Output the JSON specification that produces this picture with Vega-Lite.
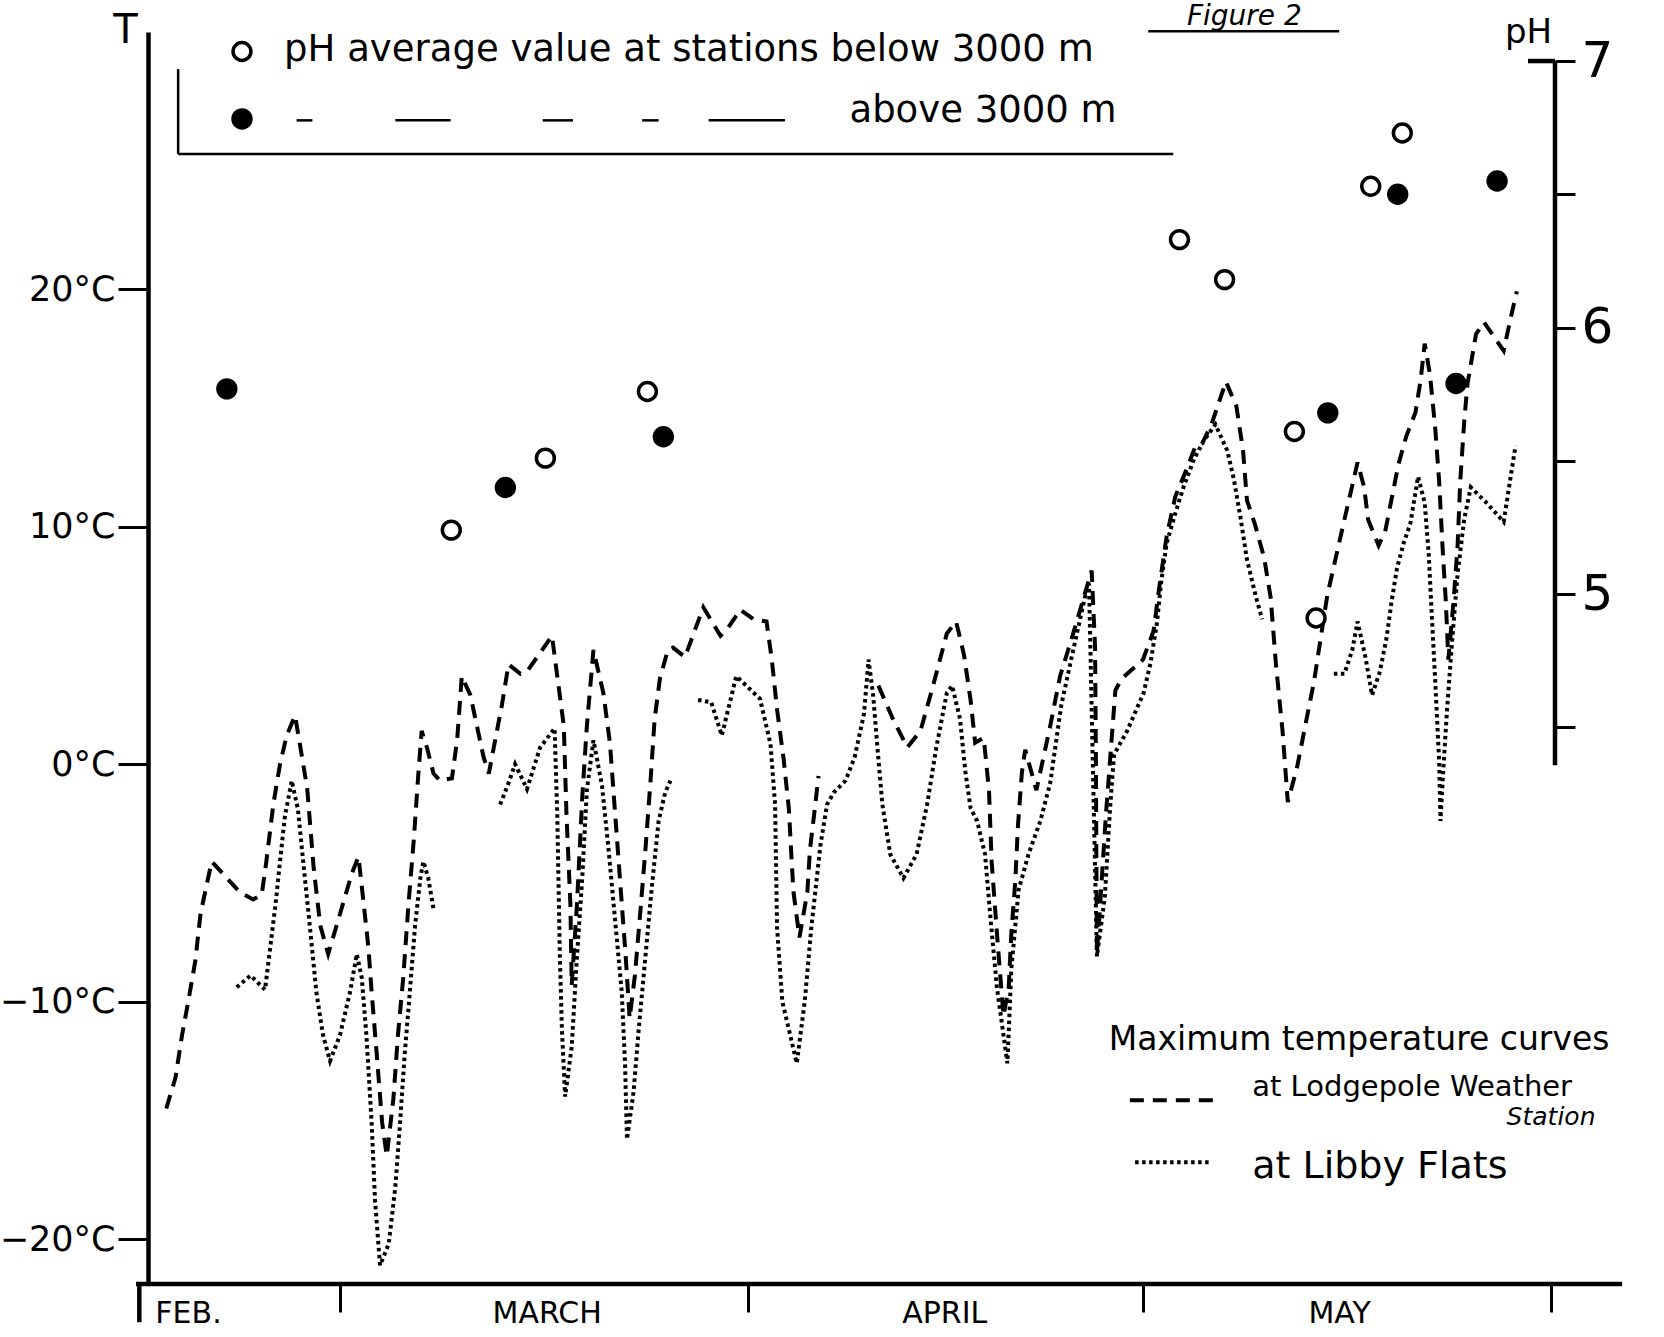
{
  "$schema": "https://vega.github.io/schema/vega-lite/v6.json",
  "width": 1407,
  "height": 1252,
  "autosize": "none",
  "padding": {"left": 148, "top": 32, "right": 109, "bottom": 53},
  "background": "white",
  "config": {"view": {"stroke": null}, "font": "DejaVu Sans"},
  "datasets": {
    "temps": [
      {"station":"Lodgepole","seg":"LP1","doy":46.8,"T":-14.5},{"station":"Lodgepole","seg":"LP1","doy":47.5,"T":-13.2},{"station":"Lodgepole","seg":"LP1","doy":48.0,"T":-11.4},{"station":"Lodgepole","seg":"LP1","doy":48.5,"T":-9.9},{"station":"Lodgepole","seg":"LP1","doy":49.0,"T":-8.3},{"station":"Lodgepole","seg":"LP1","doy":49.4,"T":-6.3},{"station":"Lodgepole","seg":"LP1","doy":49.9,"T":-5.0},{"station":"Lodgepole","seg":"LP1","doy":50.25,"T":-4.1},{"station":"Lodgepole","seg":"LP1","doy":51.4,"T":-4.8},{"station":"Lodgepole","seg":"LP1","doy":52.4,"T":-5.4},{"station":"Lodgepole","seg":"LP1","doy":53.4,"T":-5.7},{"station":"Lodgepole","seg":"LP1","doy":54.05,"T":-5.5},{"station":"Lodgepole","seg":"LP1","doy":54.4,"T":-4.1},{"station":"Lodgepole","seg":"LP1","doy":54.93,"T":-1.7},{"station":"Lodgepole","seg":"LP1","doy":55.44,"T":0.0},{"station":"Lodgepole","seg":"LP1","doy":55.95,"T":1.2},{"station":"Lodgepole","seg":"LP1","doy":56.58,"T":2.05},{"station":"Lodgepole","seg":"LP1","doy":57.5,"T":-1.0},{"station":"Lodgepole","seg":"LP1","doy":58.0,"T":-4.4},{"station":"Lodgepole","seg":"LP1","doy":58.5,"T":-6.8},{"station":"Lodgepole","seg":"LP1","doy":59.1,"T":-8.0},{"station":"Lodgepole","seg":"LP1","doy":60.0,"T":-6.3},{"station":"Lodgepole","seg":"LP1","doy":60.9,"T":-4.6},{"station":"Lodgepole","seg":"LP1","doy":61.4,"T":-3.9},{"station":"Lodgepole","seg":"LP1","doy":61.8,"T":-5.9},{"station":"Lodgepole","seg":"LP1","doy":62.15,"T":-7.7},{"station":"Lodgepole","seg":"LP1","doy":62.4,"T":-9.6},{"station":"Lodgepole","seg":"LP1","doy":62.8,"T":-12.3},{"station":"Lodgepole","seg":"LP1","doy":63.2,"T":-15.1},{"station":"Lodgepole","seg":"LP1","doy":63.55,"T":-16.5},{"station":"Lodgepole","seg":"LP1","doy":64.05,"T":-14.1},{"station":"Lodgepole","seg":"LP1","doy":64.4,"T":-11.4},{"station":"Lodgepole","seg":"LP1","doy":64.8,"T":-9.0},{"station":"Lodgepole","seg":"LP1","doy":65.2,"T":-5.9},{"station":"Lodgepole","seg":"LP1","doy":65.6,"T":-3.2},{"station":"Lodgepole","seg":"LP1","doy":65.95,"T":-0.4},{"station":"Lodgepole","seg":"LP1","doy":66.2,"T":1.4},{"station":"Lodgepole","seg":"LP1","doy":66.6,"T":0.7},{"station":"Lodgepole","seg":"LP1","doy":67.1,"T":-0.4},{"station":"Lodgepole","seg":"LP1","doy":67.6,"T":-0.7},{"station":"Lodgepole","seg":"LP1","doy":68.5,"T":-0.6},{"station":"Lodgepole","seg":"LP1","doy":68.9,"T":1.05},{"station":"Lodgepole","seg":"LP1","doy":69.25,"T":3.7},{"station":"Lodgepole","seg":"LP1","doy":69.9,"T":2.9},{"station":"Lodgepole","seg":"LP1","doy":70.4,"T":1.6},{"station":"Lodgepole","seg":"LP1","doy":70.9,"T":0.3},{"station":"Lodgepole","seg":"LP1","doy":71.3,"T":-0.4},{"station":"Lodgepole","seg":"LP1","doy":71.8,"T":1.05},{"station":"Lodgepole","seg":"LP1","doy":72.3,"T":2.5},{"station":"Lodgepole","seg":"LP1","doy":72.8,"T":4.2},{"station":"Lodgepole","seg":"LP1","doy":73.7,"T":3.8},{"station":"Lodgepole","seg":"LP1","doy":74.2,"T":3.9},{"station":"Lodgepole","seg":"LP1","doy":75.1,"T":4.6},{"station":"Lodgepole","seg":"LP1","doy":76.1,"T":5.4},{"station":"Lodgepole","seg":"LP1","doy":77.0,"T":1.6},{"station":"Lodgepole","seg":"LP1","doy":77.2,"T":-2.1},{"station":"Lodgepole","seg":"LP1","doy":77.5,"T":-5.9},{"station":"Lodgepole","seg":"LP1","doy":77.6,"T":-9.3},{"station":"Lodgepole","seg":"LP1","doy":78.0,"T":-5.9},{"station":"Lodgepole","seg":"LP1","doy":78.4,"T":-1.4},{"station":"Lodgepole","seg":"LP1","doy":78.75,"T":1.6},{"station":"Lodgepole","seg":"LP1","doy":79.25,"T":4.8},{"station":"Lodgepole","seg":"LP1","doy":80.0,"T":3.0},{"station":"Lodgepole","seg":"LP1","doy":80.5,"T":0.9},{"station":"Lodgepole","seg":"LP1","doy":80.9,"T":-2.1},{"station":"Lodgepole","seg":"LP1","doy":81.3,"T":-5.1},{"station":"Lodgepole","seg":"LP1","doy":81.7,"T":-8.1},{"station":"Lodgepole","seg":"LP1","doy":82.0,"T":-10.7},{"station":"Lodgepole","seg":"LP1","doy":82.4,"T":-8.9},{"station":"Lodgepole","seg":"LP1","doy":82.8,"T":-6.3},{"station":"Lodgepole","seg":"LP1","doy":83.2,"T":-3.6},{"station":"Lodgepole","seg":"LP1","doy":83.6,"T":-0.6},{"station":"Lodgepole","seg":"LP1","doy":83.9,"T":1.9},{"station":"Lodgepole","seg":"LP1","doy":84.3,"T":3.6},{"station":"Lodgepole","seg":"LP1","doy":84.9,"T":4.8},{"station":"Lodgepole","seg":"LP1","doy":85.3,"T":4.9},{"station":"Lodgepole","seg":"LP1","doy":86.2,"T":4.5},{"station":"Lodgepole","seg":"LP1","doy":87.6,"T":6.6},{"station":"Lodgepole","seg":"LP1","doy":88.9,"T":5.4},{"station":"Lodgepole","seg":"LP1","doy":89.5,"T":5.75},{"station":"Lodgepole","seg":"LP1","doy":90.4,"T":6.5},{"station":"Lodgepole","seg":"LP1","doy":91.4,"T":6.1},{"station":"Lodgepole","seg":"LP1","doy":92.4,"T":6.0},{"station":"Lodgepole","seg":"LP1","doy":92.8,"T":4.4},{"station":"Lodgepole","seg":"LP1","doy":93.2,"T":2.3},{"station":"Lodgepole","seg":"LP1","doy":93.7,"T":0.2},{"station":"Lodgepole","seg":"LP1","doy":94.1,"T":-1.9},{"station":"Lodgepole","seg":"LP1","doy":94.3,"T":-4.0},{"station":"Lodgepole","seg":"LP1","doy":94.45,"T":-5.4},{"station":"Lodgepole","seg":"LP1","doy":94.9,"T":-7.3},{"station":"Lodgepole","seg":"LP1","doy":95.5,"T":-5.4},{"station":"Lodgepole","seg":"LP1","doy":95.7,"T":-3.6},{"station":"Lodgepole","seg":"LP1","doy":96.0,"T":-2.2},{"station":"Lodgepole","seg":"LP1","doy":96.35,"T":-0.5},
      {"station":"Lodgepole","seg":"LP2","doy":100.9,"T":3.3},{"station":"Lodgepole","seg":"LP2","doy":102.0,"T":1.9},{"station":"Lodgepole","seg":"LP2","doy":103.1,"T":0.7},{"station":"Lodgepole","seg":"LP2","doy":104.1,"T":1.4},{"station":"Lodgepole","seg":"LP2","doy":105.1,"T":3.4},{"station":"Lodgepole","seg":"LP2","doy":106.1,"T":5.5},{"station":"Lodgepole","seg":"LP2","doy":106.8,"T":6.0},{"station":"Lodgepole","seg":"LP2","doy":107.4,"T":4.6},{"station":"Lodgepole","seg":"LP2","doy":107.9,"T":2.7},{"station":"Lodgepole","seg":"LP2","doy":108.25,"T":0.9},{"station":"Lodgepole","seg":"LP2","doy":108.9,"T":1.1},{"station":"Lodgepole","seg":"LP2","doy":109.3,"T":-1.1},{"station":"Lodgepole","seg":"LP2","doy":109.5,"T":-4.1},{"station":"Lodgepole","seg":"LP2","doy":109.9,"T":-7.1},{"station":"Lodgepole","seg":"LP2","doy":110.4,"T":-10.6},{"station":"Lodgepole","seg":"LP2","doy":110.8,"T":-9.4},{"station":"Lodgepole","seg":"LP2","doy":111.0,"T":-7.1},{"station":"Lodgepole","seg":"LP2","doy":111.3,"T":-4.9},{"station":"Lodgepole","seg":"LP2","doy":111.5,"T":-2.6},{"station":"Lodgepole","seg":"LP2","doy":111.8,"T":-0.35},{"station":"Lodgepole","seg":"LP2","doy":112.05,"T":0.6},{"station":"Lodgepole","seg":"LP2","doy":112.9,"T":-1.1},{"station":"Lodgepole","seg":"LP2","doy":113.95,"T":1.6},{"station":"Lodgepole","seg":"LP2","doy":114.7,"T":3.7},{"station":"Lodgepole","seg":"LP2","doy":115.7,"T":5.5},{"station":"Lodgepole","seg":"LP2","doy":117.1,"T":8.15},{"station":"Lodgepole","seg":"LP2","doy":117.36,"T":4.9},{"station":"Lodgepole","seg":"LP2","doy":117.42,"T":0.4},{"station":"Lodgepole","seg":"LP2","doy":117.46,"T":-4.1},{"station":"Lodgepole","seg":"LP2","doy":117.5,"T":-8.0},{"station":"Lodgepole","seg":"LP2","doy":118.2,"T":-2.0},{"station":"Lodgepole","seg":"LP2","doy":118.9,"T":3.1},{"station":"Lodgepole","seg":"LP2","doy":119.4,"T":3.6},{"station":"Lodgepole","seg":"LP2","doy":121.0,"T":4.4},{"station":"Lodgepole","seg":"LP2","doy":121.8,"T":5.6},{"station":"Lodgepole","seg":"LP2","doy":122.3,"T":7.7},{"station":"Lodgepole","seg":"LP2","doy":122.8,"T":9.6},{"station":"Lodgepole","seg":"LP2","doy":123.45,"T":11.25},{"station":"Lodgepole","seg":"LP2","doy":124.3,"T":12.4},{"station":"Lodgepole","seg":"LP2","doy":125.0,"T":13.4},{"station":"Lodgepole","seg":"LP2","doy":125.5,"T":13.5},{"station":"Lodgepole","seg":"LP2","doy":126.2,"T":14.3},{"station":"Lodgepole","seg":"LP2","doy":127.3,"T":16.1},{"station":"Lodgepole","seg":"LP2","doy":128.1,"T":15.05},{"station":"Lodgepole","seg":"LP2","doy":128.6,"T":13.2},{"station":"Lodgepole","seg":"LP2","doy":128.9,"T":11.1},{"station":"Lodgepole","seg":"LP2","doy":129.5,"T":10.1},{"station":"Lodgepole","seg":"LP2","doy":130.2,"T":8.7},{"station":"Lodgepole","seg":"LP2","doy":130.7,"T":7.0},{"station":"Lodgepole","seg":"LP2","doy":131.1,"T":4.2},{"station":"Lodgepole","seg":"LP2","doy":131.6,"T":1.4},{"station":"Lodgepole","seg":"LP2","doy":132.0,"T":-1.6},{"station":"Lodgepole","seg":"LP2","doy":132.7,"T":-0.15},{"station":"Lodgepole","seg":"LP2","doy":134.0,"T":3.5},{"station":"Lodgepole","seg":"LP2","doy":135.0,"T":7.1},{"station":"Lodgepole","seg":"LP2","doy":136.1,"T":9.8},{"station":"Lodgepole","seg":"LP2","doy":137.3,"T":12.7},{"station":"Lodgepole","seg":"LP2","doy":137.8,"T":11.65},{"station":"Lodgepole","seg":"LP2","doy":138.1,"T":10.3},{"station":"Lodgepole","seg":"LP2","doy":138.9,"T":9.2},{"station":"Lodgepole","seg":"LP2","doy":139.4,"T":9.8},{"station":"Lodgepole","seg":"LP2","doy":139.9,"T":11.2},{"station":"Lodgepole","seg":"LP2","doy":140.4,"T":12.6},{"station":"Lodgepole","seg":"LP2","doy":141.0,"T":13.8},{"station":"Lodgepole","seg":"LP2","doy":141.7,"T":14.8},{"station":"Lodgepole","seg":"LP2","doy":142.1,"T":16.2},{"station":"Lodgepole","seg":"LP2","doy":142.4,"T":17.7},{"station":"Lodgepole","seg":"LP2","doy":142.8,"T":16.4},{"station":"Lodgepole","seg":"LP2","doy":143.2,"T":14.15},{"station":"Lodgepole","seg":"LP2","doy":143.5,"T":11.9},{"station":"Lodgepole","seg":"LP2","doy":143.75,"T":9.2},{"station":"Lodgepole","seg":"LP2","doy":144.0,"T":6.9},{"station":"Lodgepole","seg":"LP2","doy":144.2,"T":4.4},{"station":"Lodgepole","seg":"LP2","doy":144.6,"T":6.9},{"station":"Lodgepole","seg":"LP2","doy":144.9,"T":9.2},{"station":"Lodgepole","seg":"LP2","doy":145.1,"T":11.9},{"station":"Lodgepole","seg":"LP2","doy":145.4,"T":14.4},{"station":"Lodgepole","seg":"LP2","doy":145.65,"T":16.0},{"station":"Lodgepole","seg":"LP2","doy":146.3,"T":18.1},{"station":"Lodgepole","seg":"LP2","doy":146.9,"T":18.6},{"station":"Lodgepole","seg":"LP2","doy":147.65,"T":18.0},{"station":"Lodgepole","seg":"LP2","doy":148.4,"T":17.4},{"station":"Lodgepole","seg":"LP2","doy":148.9,"T":18.7},{"station":"Lodgepole","seg":"LP2","doy":149.4,"T":19.9},
      {"station":"Libby","seg":"LF1","doy":52.15,"T":-9.4},{"station":"Libby","seg":"LF1","doy":53.2,"T":-8.9},{"station":"Libby","seg":"LF1","doy":54.3,"T":-9.5},{"station":"Libby","seg":"LF1","doy":54.7,"T":-7.7},{"station":"Libby","seg":"LF1","doy":55.1,"T":-5.9},{"station":"Libby","seg":"LF1","doy":55.44,"T":-4.1},{"station":"Libby","seg":"LF1","doy":55.8,"T":-2.25},{"station":"Libby","seg":"LF1","doy":56.33,"T":-0.7},{"station":"Libby","seg":"LF1","doy":56.8,"T":-1.9},{"station":"Libby","seg":"LF1","doy":57.2,"T":-4.1},{"station":"Libby","seg":"LF1","doy":57.7,"T":-6.8},{"station":"Libby","seg":"LF1","doy":58.2,"T":-9.6},{"station":"Libby","seg":"LF1","doy":58.7,"T":-11.4},{"station":"Libby","seg":"LF1","doy":59.24,"T":-12.5},{"station":"Libby","seg":"LF1","doy":60.0,"T":-11.4},{"station":"Libby","seg":"LF1","doy":60.76,"T":-9.6},{"station":"Libby","seg":"LF1","doy":61.27,"T":-8.0},{"station":"Libby","seg":"LF1","doy":61.65,"T":-9.0},{"station":"Libby","seg":"LF1","doy":62.0,"T":-11.4},{"station":"Libby","seg":"LF1","doy":62.4,"T":-15.1},{"station":"Libby","seg":"LF1","doy":62.66,"T":-18.4},{"station":"Libby","seg":"LF1","doy":63.04,"T":-21.1},{"station":"Libby","seg":"LF1","doy":63.7,"T":-20.2},{"station":"Libby","seg":"LF1","doy":64.2,"T":-17.8},{"station":"Libby","seg":"LF1","doy":64.56,"T":-15.1},{"station":"Libby","seg":"LF1","doy":64.9,"T":-12.3},{"station":"Libby","seg":"LF1","doy":65.3,"T":-9.6},{"station":"Libby","seg":"LF1","doy":65.7,"T":-6.8},{"station":"Libby","seg":"LF1","doy":66.1,"T":-4.8},{"station":"Libby","seg":"LF1","doy":66.33,"T":-4.1},{"station":"Libby","seg":"LF1","doy":66.7,"T":-4.8},{"station":"Libby","seg":"LF1","doy":67.1,"T":-6.1},
      {"station":"Libby","seg":"LF2","doy":72.16,"T":-1.7},{"station":"Libby","seg":"LF2","doy":72.8,"T":-0.8},{"station":"Libby","seg":"LF2","doy":73.3,"T":0.0},{"station":"Libby","seg":"LF2","doy":74.2,"T":-1.05},{"station":"Libby","seg":"LF2","doy":75.2,"T":0.7},{"station":"Libby","seg":"LF2","doy":76.3,"T":1.5},{"station":"Libby","seg":"LF2","doy":76.5,"T":-2.1},{"station":"Libby","seg":"LF2","doy":76.6,"T":-5.1},{"station":"Libby","seg":"LF2","doy":76.7,"T":-8.1},{"station":"Libby","seg":"LF2","doy":76.85,"T":-11.1},{"station":"Libby","seg":"LF2","doy":77.1,"T":-14.0},{"station":"Libby","seg":"LF2","doy":77.6,"T":-11.9},{"station":"Libby","seg":"LF2","doy":78.0,"T":-8.1},{"station":"Libby","seg":"LF2","doy":78.4,"T":-4.8},{"station":"Libby","seg":"LF2","doy":78.75,"T":-1.1},{"station":"Libby","seg":"LF2","doy":79.25,"T":1.0},{"station":"Libby","seg":"LF2","doy":79.9,"T":-0.9},{"station":"Libby","seg":"LF2","doy":80.4,"T":-3.6},{"station":"Libby","seg":"LF2","doy":80.9,"T":-6.6},{"station":"Libby","seg":"LF2","doy":81.4,"T":-9.6},{"station":"Libby","seg":"LF2","doy":81.65,"T":-12.6},{"station":"Libby","seg":"LF2","doy":81.8,"T":-15.8},{"station":"Libby","seg":"LF2","doy":82.3,"T":-13.8},{"station":"Libby","seg":"LF2","doy":82.7,"T":-11.1},{"station":"Libby","seg":"LF2","doy":83.2,"T":-8.1},{"station":"Libby","seg":"LF2","doy":83.7,"T":-5.1},{"station":"Libby","seg":"LF2","doy":84.2,"T":-2.4},{"station":"Libby","seg":"LF2","doy":84.7,"T":-1.2},{"station":"Libby","seg":"LF2","doy":85.1,"T":-0.7},
      {"station":"Libby","seg":"LF3","doy":87.2,"T":2.7},{"station":"Libby","seg":"LF3","doy":88.2,"T":2.6},{"station":"Libby","seg":"LF3","doy":89.0,"T":1.2},{"station":"Libby","seg":"LF3","doy":90.1,"T":3.7},{"station":"Libby","seg":"LF3","doy":91.9,"T":2.75},{"station":"Libby","seg":"LF3","doy":92.7,"T":0.85},{"station":"Libby","seg":"LF3","doy":93.05,"T":-1.7},{"station":"Libby","seg":"LF3","doy":93.2,"T":-6.9},{"station":"Libby","seg":"LF3","doy":93.6,"T":-10.0},{"station":"Libby","seg":"LF3","doy":94.7,"T":-12.6},{"station":"Libby","seg":"LF3","doy":95.3,"T":-10.0},{"station":"Libby","seg":"LF3","doy":95.8,"T":-6.9},{"station":"Libby","seg":"LF3","doy":96.5,"T":-3.4},{"station":"Libby","seg":"LF3","doy":97.0,"T":-1.7},{"station":"Libby","seg":"LF3","doy":97.5,"T":-1.2},{"station":"Libby","seg":"LF3","doy":98.4,"T":-0.7},{"station":"Libby","seg":"LF3","doy":99.1,"T":0.3},{"station":"Libby","seg":"LF3","doy":99.8,"T":2.1},{"station":"Libby","seg":"LF3","doy":100.15,"T":4.4},{"station":"Libby","seg":"LF3","doy":100.5,"T":2.9},{"station":"Libby","seg":"LF3","doy":100.8,"T":0.85},{"station":"Libby","seg":"LF3","doy":101.2,"T":-1.7},{"station":"Libby","seg":"LF3","doy":101.8,"T":-3.8},{"station":"Libby","seg":"LF3","doy":102.8,"T":-4.8},{"station":"Libby","seg":"LF3","doy":103.8,"T":-3.8},{"station":"Libby","seg":"LF3","doy":104.6,"T":-1.7},{"station":"Libby","seg":"LF3","doy":105.3,"T":0.7},{"station":"Libby","seg":"LF3","doy":106.1,"T":3.0},{"station":"Libby","seg":"LF3","doy":106.5,"T":3.3},{"station":"Libby","seg":"LF3","doy":107.1,"T":1.9},{"station":"Libby","seg":"LF3","doy":107.5,"T":-0.3},{"station":"Libby","seg":"LF3","doy":107.9,"T":-1.85},{"station":"Libby","seg":"LF3","doy":108.4,"T":-2.4},{"station":"Libby","seg":"LF3","doy":109.0,"T":-3.8},{"station":"Libby","seg":"LF3","doy":109.4,"T":-6.4},{"station":"Libby","seg":"LF3","doy":109.9,"T":-9.4},{"station":"Libby","seg":"LF3","doy":110.7,"T":-12.6},{"station":"Libby","seg":"LF3","doy":111.0,"T":-8.6},{"station":"Libby","seg":"LF3","doy":111.55,"T":-5.3},{"station":"Libby","seg":"LF3","doy":112.3,"T":-3.8},{"station":"Libby","seg":"LF3","doy":113.2,"T":-2.4},{"station":"Libby","seg":"LF3","doy":113.95,"T":-0.8},{"station":"Libby","seg":"LF3","doy":114.8,"T":2.5},{"station":"Libby","seg":"LF3","doy":115.7,"T":4.8},{"station":"Libby","seg":"LF3","doy":116.7,"T":7.3},{"station":"Libby","seg":"LF3","doy":116.9,"T":7.6},{"station":"Libby","seg":"LF3","doy":117.5,"T":-8.1},{"station":"Libby","seg":"LF3","doy":118.1,"T":-5.6},{"station":"Libby","seg":"LF3","doy":118.5,"T":-1.85},{"station":"Libby","seg":"LF3","doy":118.8,"T":0.4},{"station":"Libby","seg":"LF3","doy":119.8,"T":1.4},{"station":"Libby","seg":"LF3","doy":121.05,"T":3.0},{"station":"Libby","seg":"LF3","doy":121.55,"T":4.2},{"station":"Libby","seg":"LF3","doy":122.05,"T":5.9},{"station":"Libby","seg":"LF3","doy":122.4,"T":7.75},{"station":"Libby","seg":"LF3","doy":122.8,"T":9.3},{"station":"Libby","seg":"LF3","doy":123.45,"T":10.55},{"station":"Libby","seg":"LF3","doy":124.1,"T":11.7},{"station":"Libby","seg":"LF3","doy":124.85,"T":12.8},{"station":"Libby","seg":"LF3","doy":125.6,"T":13.6},{"station":"Libby","seg":"LF3","doy":126.5,"T":14.3},{"station":"Libby","seg":"LF3","doy":127.4,"T":13.2},{"station":"Libby","seg":"LF3","doy":127.9,"T":12.0},{"station":"Libby","seg":"LF3","doy":128.4,"T":10.4},{"station":"Libby","seg":"LF3","doy":128.9,"T":8.6},{"station":"Libby","seg":"LF3","doy":129.6,"T":7.0},{"station":"Libby","seg":"LF3","doy":130.05,"T":6.1},
      {"station":"Libby","seg":"LF4","doy":135.5,"T":3.8},{"station":"Libby","seg":"LF4","doy":136.3,"T":3.8},{"station":"Libby","seg":"LF4","doy":136.9,"T":4.8},{"station":"Libby","seg":"LF4","doy":137.3,"T":6.0},{"station":"Libby","seg":"LF4","doy":137.9,"T":4.5},{"station":"Libby","seg":"LF4","doy":138.4,"T":2.9},{"station":"Libby","seg":"LF4","doy":139.0,"T":3.9},{"station":"Libby","seg":"LF4","doy":139.5,"T":5.3},{"station":"Libby","seg":"LF4","doy":139.9,"T":6.9},{"station":"Libby","seg":"LF4","doy":140.3,"T":8.25},{"station":"Libby","seg":"LF4","doy":140.8,"T":9.3},{"station":"Libby","seg":"LF4","doy":141.3,"T":10.1},{"station":"Libby","seg":"LF4","doy":141.9,"T":12.1},{"station":"Libby","seg":"LF4","doy":142.4,"T":11.0},{"station":"Libby","seg":"LF4","doy":142.7,"T":8.9},{"station":"Libby","seg":"LF4","doy":142.9,"T":6.7},{"station":"Libby","seg":"LF4","doy":143.2,"T":3.5},{"station":"Libby","seg":"LF4","doy":143.5,"T":0.1},{"station":"Libby","seg":"LF4","doy":143.6,"T":-2.4},{"station":"Libby","seg":"LF4","doy":143.85,"T":0.1},{"station":"Libby","seg":"LF4","doy":144.1,"T":2.3},{"station":"Libby","seg":"LF4","doy":144.5,"T":5.3},{"station":"Libby","seg":"LF4","doy":144.9,"T":8.0},{"station":"Libby","seg":"LF4","doy":145.4,"T":10.3},{"station":"Libby","seg":"LF4","doy":145.9,"T":11.65},{"station":"Libby","seg":"LF4","doy":147.1,"T":11.0},{"station":"Libby","seg":"LF4","doy":148.4,"T":10.2},{"station":"Libby","seg":"LF4","doy":149.3,"T":13.4}
    ],
    "ph": [
      {"site":"above 3000 m","doy":51.4,"pH":5.77},
      {"site":"above 3000 m","doy":72.56,"pH":5.40},
      {"site":"above 3000 m","doy":84.56,"pH":5.59},
      {"site":"above 3000 m","doy":135.04,"pH":5.68},
      {"site":"above 3000 m","doy":140.35,"pH":6.50},
      {"site":"above 3000 m","doy":144.78,"pH":5.79},
      {"site":"above 3000 m","doy":147.9,"pH":6.55},
      {"site":"below 3000 m","doy":68.45,"pH":5.24},
      {"site":"below 3000 m","doy":75.6,"pH":5.51},
      {"site":"below 3000 m","doy":83.35,"pH":5.76},
      {"site":"below 3000 m","doy":123.77,"pH":6.33},
      {"site":"below 3000 m","doy":127.2,"pH":6.18},
      {"site":"below 3000 m","doy":132.5,"pH":5.61},
      {"site":"below 3000 m","doy":134.15,"pH":4.91},
      {"site":"below 3000 m","doy":138.3,"pH":6.53},
      {"site":"below 3000 m","doy":140.7,"pH":6.73}
    ],
    "phaxis": [
      {"doy":152.3,"doy2":152.3,"pH":4.358,"pH2":7.0},
      {"doy":150.25,"doy2":152.3,"pH":7.0,"pH2":7.0}
    ],
    "strokes": [
      {"kind":"axis","doy":44.5,"doy2":157.4,"T":-21.89,"T2":-21.89},
      {"kind":"axis","doy":44.75,"doy2":44.75,"T":-21.89,"T2":-23.5},
      {"kind":"deco","doy":47.7,"doy2":47.7,"T":29.26,"T2":25.68},
      {"kind":"deco","doy":47.7,"doy2":123.3,"T":25.68,"T2":25.68},
      {"kind":"deco","doy":121.4,"doy2":135.9,"T":30.85,"T2":30.85},
      {"kind":"deco","doy":56.7,"doy2":57.9,"T":27.1,"T2":27.1},
      {"kind":"deco","doy":64.2,"doy2":68.4,"T":27.1,"T2":27.1},
      {"kind":"deco","doy":75.4,"doy2":77.7,"T":27.1,"T2":27.1},
      {"kind":"deco","doy":82.95,"doy2":84.2,"T":27.1,"T2":27.1},
      {"kind":"deco","doy":88.0,"doy2":93.8,"T":27.1,"T2":27.1}
    ],
    "keys": [
      {"station":"Lodgepole","doy":120.0,"doy2":126.7,"T":-14.15},
      {"station":"Libby","doy":120.4,"doy2":126.1,"T":-16.76}
    ],
    "keypoints": [
      {"site":"below 3000 m","doy":52.55,"T":30.0},
      {"site":"above 3000 m","doy":52.55,"T":27.16}
    ],
    "notes": [
      {"block":"top","text":"pH average value at stations below 3000 m","doy":55.75,"T":30.06},
      {"block":"top","text":"above 3000 m","doy":98.7,"T":27.5},
      {"block":"fig","text":"Figure 2","doy":128.7,"T":31.12},
      {"block":"head","text":"Maximum temperature curves","doy":118.4,"T":-11.6},
      {"block":"item","text":"at Lodgepole Weather","doy":129.3,"T":-13.6},
      {"block":"item3","text":"Station","doy":152.0,"T":-14.85},
      {"block":"item2","text":"at Libby Flats","doy":129.3,"T":-16.97}
    ]
  },
  "layer": [
    {
      "layer": [
        {
          "data": {"name": "strokes"},
          "transform": [{"filter": "datum.kind == 'axis'"}],
          "mark": {"type": "rule", "color": "black", "strokeWidth": 4.5},
          "encoding": {
            "x": {"field": "doy", "type": "quantitative", "scale": {"domain": [45.41, 152.3], "nice": false, "zero": false}},
            "x2": {"field": "doy2"},
            "y": {"field": "T", "type": "quantitative", "scale": {"domain": [-21.89, 30.82], "nice": false, "zero": false}},
            "y2": {"field": "T2"}
          }
        },
        {
          "data": {"name": "strokes"},
          "transform": [{"filter": "datum.kind == 'deco'"}],
          "mark": {"type": "rule", "color": "black", "strokeWidth": 2.5},
          "encoding": {
            "x": {"field": "doy", "type": "quantitative", "scale": {"domain": [45.41, 152.3], "nice": false, "zero": false}},
            "x2": {"field": "doy2"},
            "y": {"field": "T", "type": "quantitative", "scale": {"domain": [-21.89, 30.82], "nice": false, "zero": false}},
            "y2": {"field": "T2"}
          }
        },
        {
          "data": {"name": "temps"},
          "mark": {"type": "line", "color": "black", "strokeWidth": 4, "strokeCap": "butt"},
          "encoding": {
            "x": {
              "field": "doy", "type": "quantitative",
              "scale": {"domain": [45.41, 152.3], "nice": false, "zero": false},
              "axis": {
                "values": [48.45, 60, 75.7, 91, 105.9, 121, 135.9, 152],
                "labelExpr": "datum.value == 48.45 ? 'FEB.' : datum.value == 75.7 ? 'MARCH' : datum.value == 105.9 ? 'APRIL' : datum.value == 135.9 ? 'MAY' : ''",
                "tickOpacity": {"condition": {"test": "datum.value == 60 || datum.value == 91 || datum.value == 121 || datum.value == 152", "value": 1}, "value": 0},
                "tickSize": 28, "tickWidth": 3, "tickColor": "black",
                "domain": false, "grid": false, "title": null,
                "labelFontSize": 30, "labelBaseline": "middle", "labelPadding": 1,
                "labelAlign": "center", "labelFlush": false, "labelOverlap": false, "labelColor": "black"
              }
            },
            "y": {
              "field": "T", "type": "quantitative",
              "scale": {"domain": [-21.89, 30.82], "nice": false, "zero": false},
              "axis": {
                "values": [-20, -10, 0, 10, 20],
                "labelExpr": "datum.value < 0 ? '−' + abs(datum.value) + '°C' : datum.value + '°C'",
                "tickSize": 30, "tickWidth": 3, "tickColor": "black",
                "domainWidth": 4.5, "domainColor": "black", "grid": false,
                "labelFontSize": 35, "labelPadding": 3, "labelColor": "black",
                "title": "T", "titleAngle": 0, "titleX": -23, "titleY": -2,
                "titleFontSize": 40, "titleFontWeight": "normal", "titleAlign": "center", "titleBaseline": "middle", "titleColor": "black"
              }
            },
            "strokeDash": {"field": "station", "type": "nominal", "scale": {"domain": ["Lodgepole", "Libby"], "range": [[14, 9], [3.5, 3.5]]}, "legend": null},
            "detail": {"field": "seg", "type": "nominal"}
          }
        },
        {
          "data": {"name": "keys"},
          "mark": {"type": "rule", "color": "black", "strokeWidth": 4, "strokeCap": "butt"},
          "encoding": {
            "x": {"field": "doy", "type": "quantitative", "scale": {"domain": [45.41, 152.3], "nice": false, "zero": false}},
            "x2": {"field": "doy2"},
            "y": {"field": "T", "type": "quantitative", "scale": {"domain": [-21.89, 30.82], "nice": false, "zero": false}},
            "strokeDash": {"field": "station", "type": "nominal", "scale": {"domain": ["Lodgepole", "Libby"], "range": [[14, 9], [3.5, 3.5]]}, "legend": null}
          }
        },
        {
          "data": {"name": "keypoints"},
          "mark": {"type": "point", "shape": "circle", "filled": true, "opacity": 1, "size": 320, "stroke": "black", "strokeWidth": 3.5},
          "encoding": {
            "x": {"field": "doy", "type": "quantitative", "scale": {"domain": [45.41, 152.3], "nice": false, "zero": false}},
            "y": {"field": "T", "type": "quantitative", "scale": {"domain": [-21.89, 30.82], "nice": false, "zero": false}},
            "fill": {"field": "site", "type": "nominal", "scale": {"domain": ["below 3000 m", "above 3000 m"], "range": ["white", "black"]}, "legend": null}
          }
        },
        {
          "data": {"name": "notes"},
          "transform": [{"filter": "datum.block == 'top'"}],
          "mark": {"type": "text", "fontSize": 37, "align": "left", "baseline": "middle", "color": "black"},
          "encoding": {
            "x": {"field": "doy", "type": "quantitative", "scale": {"domain": [45.41, 152.3], "nice": false, "zero": false}},
            "y": {"field": "T", "type": "quantitative", "scale": {"domain": [-21.89, 30.82], "nice": false, "zero": false}},
            "text": {"field": "text"}
          }
        },
        {
          "data": {"name": "notes"},
          "transform": [{"filter": "datum.block == 'fig'"}],
          "mark": {"type": "text", "fontSize": 28, "fontStyle": "italic", "align": "center", "baseline": "alphabetic", "color": "black"},
          "encoding": {
            "x": {"field": "doy", "type": "quantitative", "scale": {"domain": [45.41, 152.3], "nice": false, "zero": false}},
            "y": {"field": "T", "type": "quantitative", "scale": {"domain": [-21.89, 30.82], "nice": false, "zero": false}},
            "text": {"field": "text"}
          }
        },
        {
          "data": {"name": "notes"},
          "transform": [{"filter": "datum.block == 'head'"}],
          "mark": {"type": "text", "fontSize": 33, "align": "left", "baseline": "middle", "color": "black"},
          "encoding": {
            "x": {"field": "doy", "type": "quantitative", "scale": {"domain": [45.41, 152.3], "nice": false, "zero": false}},
            "y": {"field": "T", "type": "quantitative", "scale": {"domain": [-21.89, 30.82], "nice": false, "zero": false}},
            "text": {"field": "text"}
          }
        },
        {
          "data": {"name": "notes"},
          "transform": [{"filter": "datum.block == 'item'"}],
          "mark": {"type": "text", "fontSize": 29, "align": "left", "baseline": "middle", "color": "black"},
          "encoding": {
            "x": {"field": "doy", "type": "quantitative", "scale": {"domain": [45.41, 152.3], "nice": false, "zero": false}},
            "y": {"field": "T", "type": "quantitative", "scale": {"domain": [-21.89, 30.82], "nice": false, "zero": false}},
            "text": {"field": "text"}
          }
        },
        {
          "data": {"name": "notes"},
          "transform": [{"filter": "datum.block == 'item3'"}],
          "mark": {"type": "text", "fontSize": 25, "fontStyle": "italic", "align": "center", "baseline": "middle", "color": "black"},
          "encoding": {
            "x": {"field": "doy", "type": "quantitative", "scale": {"domain": [45.41, 152.3], "nice": false, "zero": false}},
            "y": {"field": "T", "type": "quantitative", "scale": {"domain": [-21.89, 30.82], "nice": false, "zero": false}},
            "text": {"field": "text"}
          }
        },
        {
          "data": {"name": "notes"},
          "transform": [{"filter": "datum.block == 'item2'"}],
          "mark": {"type": "text", "fontSize": 38, "align": "left", "baseline": "middle", "color": "black"},
          "encoding": {
            "x": {"field": "doy", "type": "quantitative", "scale": {"domain": [45.41, 152.3], "nice": false, "zero": false}},
            "y": {"field": "T", "type": "quantitative", "scale": {"domain": [-21.89, 30.82], "nice": false, "zero": false}},
            "text": {"field": "text"}
          }
        }
      ]
    },
    {
      "layer": [
        {
          "data": {"name": "phaxis"},
          "mark": {"type": "rule", "color": "black", "strokeWidth": 4.5},
          "encoding": {
            "x": {"field": "doy", "type": "quantitative", "scale": {"domain": [45.41, 152.3], "nice": false, "zero": false}},
            "x2": {"field": "doy2"},
            "y": {"field": "pH", "type": "quantitative", "scale": {"domain": [2.411, 7.109], "nice": false, "zero": false}},
            "y2": {"field": "pH2"}
          }
        },
        {
          "data": {"name": "ph"},
          "mark": {"type": "point", "shape": "circle", "filled": true, "opacity": 1, "size": 320, "stroke": "black", "strokeWidth": 3.5},
          "encoding": {
            "x": {"field": "doy", "type": "quantitative", "scale": {"domain": [45.41, 152.3], "nice": false, "zero": false}},
            "y": {
              "field": "pH", "type": "quantitative",
              "scale": {"domain": [2.411, 7.109], "nice": false, "zero": false},
              "axis": {
                "orient": "right",
                "values": [4.5, 5, 5.5, 6, 6.5, 7],
                "labelExpr": "datum.value % 1 == 0 ? '' + datum.value : ''",
                "domain": false, "grid": false,
                "tickSize": 20, "tickWidth": 3, "tickColor": "black",
                "labelFontSize": 50, "labelPadding": 6, "labelColor": "black",
                "title": "pH", "titleAngle": 0, "titleX": -27, "titleY": 0,
                "titleFontSize": 34, "titleFontWeight": "normal", "titleAlign": "center", "titleBaseline": "middle", "titleColor": "black"
              }
            },
            "fill": {"field": "site", "type": "nominal", "scale": {"domain": ["below 3000 m", "above 3000 m"], "range": ["white", "black"]}, "legend": null}
          }
        }
      ]
    }
  ],
  "resolve": {"scale": {"y": "independent"}}
}
